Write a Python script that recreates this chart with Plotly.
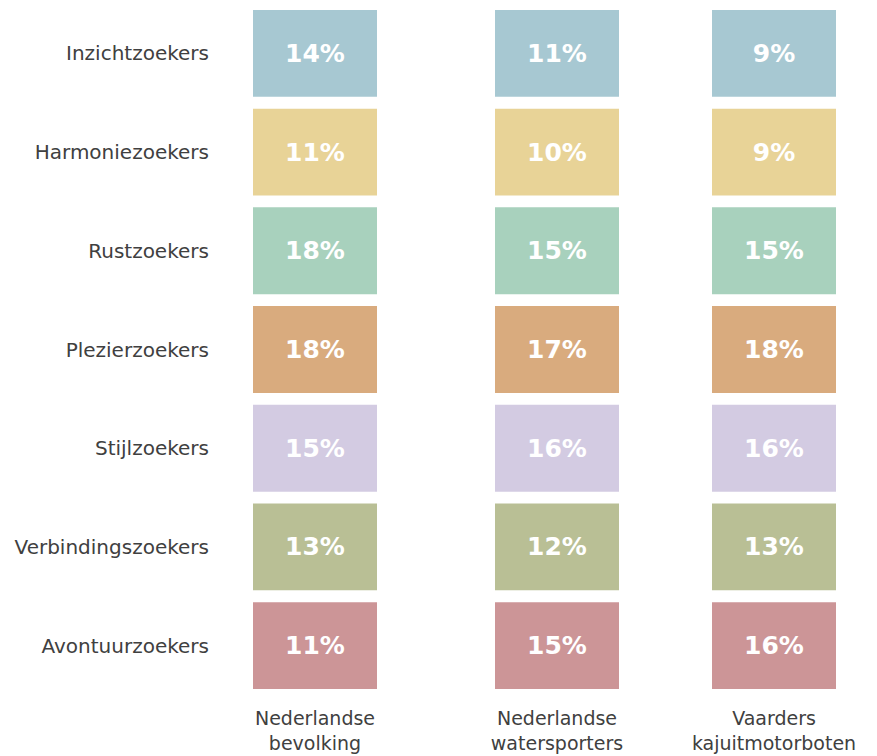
import plotly.graph_objects as go

segments = ["Inzichtzoekers", "Harmoniezoekers", "Rustzoekers", "Plezierzoekers",
            "Stijlzoekers", "Verbindingszoekers", "Avontuurzoekers"]
groups = ["Nederlandse<br>bevolking", "Nederlandse<br>watersporters", "Vaarders<br>kajuitmotorboten"]
bevolking = [14, 11, 18, 18, 15, 13, 11]
watersporters = [11, 10, 15, 17, 16, 12, 15]
kajuitmotorboten = [9, 9, 15, 18, 16, 13, 16]
segment_colors = ["#A7C8D2", "#E8D397", "#A8D1BD", "#D9AB7E", "#D3CBE2", "#B9BF95", "#CC9597"]

# layout constants (pixel-like x units)
col_left = [253, 495, 712]
box_w = 124

fig = go.Figure()
for g, vals, left in zip(groups, [bevolking, watersporters, kajuitmotorboten], col_left):
    fig.add_trace(go.Bar(
        orientation="h",
        y=segments,
        x=[box_w] * len(segments),
        base=[left] * len(segments),
        width=0.88,
        marker=dict(color=segment_colors, line=dict(width=0)),
        text=[f"{v}%" for v in vals],
        textposition="inside",
        insidetextanchor="middle",
        textangle=0,
        textfont=dict(family="DejaVu Sans", size=25, color="white", weight="bold"),
        name=g.replace("<br>", " "),
        showlegend=False,
        hoverinfo="skip",
    ))

fig.update_layout(
    width=877, height=756,
    margin=dict(l=230, r=0, t=4, b=61),
    paper_bgcolor="white", plot_bgcolor="white",
    barmode="overlay",
    font=dict(family="DejaVu Sans", color="#404040"),
)
fig.update_xaxes(
    range=[230, 877],
    tickvals=[l + box_w / 2 for l in col_left],
    ticktext=groups,
    tickfont=dict(size=19, color="#404040"),
    showgrid=False, zeroline=False, showline=False,
    ticks="outside", ticklen=6, tickcolor="rgba(0,0,0,0)",
)
fig.update_yaxes(
    range=[6.5, -0.5],
    type="category",
    tickfont=dict(size=20, color="#404040"),
    showgrid=False, zeroline=False, showline=False,
    ticks="outside", ticklen=16, tickcolor="rgba(0,0,0,0)",
)

fig.write_html(
    "out.html",
    config={"displayModeBar": False},
    post_script="document.body.style.margin='0';document.body.style.overflow='hidden';",
)
